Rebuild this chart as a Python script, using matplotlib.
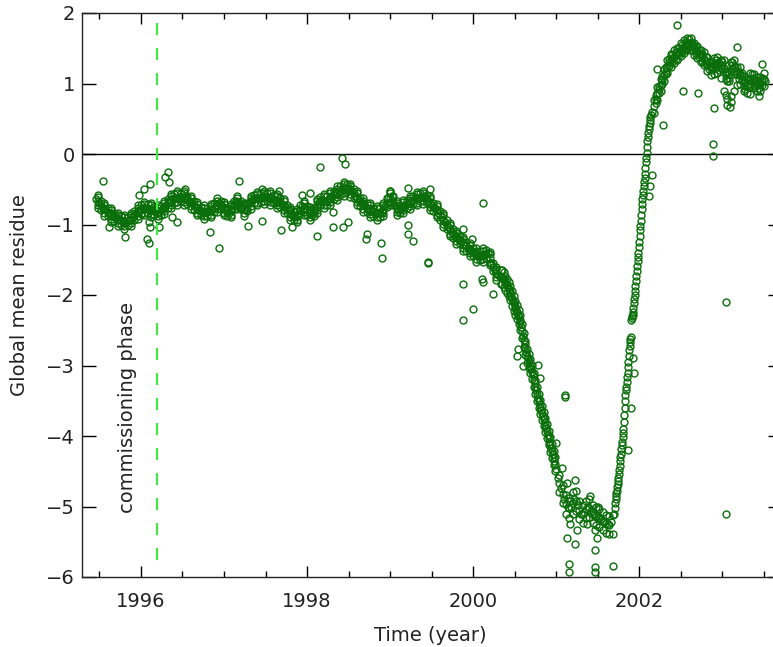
import numpy as np
import matplotlib.pyplot as plt
from matplotlib.ticker import MultipleLocator

# 数据：按时间段读取的主带（起始年份、步长、数值）
# 1995.46 - 2000.30，每 0.04 年一个点
slow_t0, slow_dt = 1995.46, 0.04
slow_mid = [
    -0.64, -0.70, -0.76, -0.80, -0.84, -0.87, -0.90, -0.93, -0.95, -0.96, -0.94, -0.89, -0.84, -0.80,
    -0.77, -0.76, -0.78, -0.80, -0.81, -0.82, -0.78, -0.72, -0.67, -0.64, -0.62, -0.61, -0.61,
    -0.63, -0.66, -0.70, -0.75, -0.79, -0.82, -0.82, -0.81, -0.78, -0.74, -0.69, -0.74,
    -0.80, -0.83, -0.76, -0.67, -0.68, -0.76, -0.80, -0.70, -0.65, -0.63, -0.62, -0.61, -0.61,
    -0.61, -0.63, -0.65, -0.67, -0.71, -0.75, -0.80, -0.87, -0.89, -0.84, -0.74, -0.77,
    -0.82, -0.86, -0.78, -0.68, -0.65, -0.67, -0.64, -0.59, -0.56, -0.53, -0.50, -0.47, -0.48,
    -0.53, -0.59, -0.65, -0.70, -0.74, -0.78, -0.80, -0.83, -0.83, -0.82, -0.74, -0.63,
    -0.60, -0.72, -0.80, -0.76, -0.72, -0.69, -0.66, -0.63, -0.62, -0.60, -0.61, -0.66, -0.72,
    -0.77, -0.83, -0.90, -0.96, -1.04, -1.10, -1.15, -1.20, -1.24, -1.29, -1.33, -1.37,
    -1.41, -1.44, -1.44, -1.42, -1.41, -1.55, -1.65, -1.72,
]
# 同一时段，错开 0.02 年的点（中、偏上、偏下）
slow2_t0, slow2_dt = 1995.48, 0.04
slow_mid2 = [
    -0.67, -0.73, -0.78, -0.82, -0.86, -0.89, -0.92, -0.94, -0.96, -0.95, -0.92, -0.87, -0.82,
    -0.79, -0.77, -0.77, -0.79, -0.81, -0.82, -0.80, -0.75, -0.70, -0.66, -0.63, -0.62, -0.61,
    -0.62, -0.65, -0.68, -0.73, -0.77, -0.81, -0.82, -0.82, -0.80, -0.76, -0.72, -0.72,
    -0.77, -0.82, -0.80, -0.72, -0.68, -0.72, -0.78, -0.75, -0.68, -0.64, -0.63, -0.62, -0.61,
    -0.61, -0.62, -0.64, -0.66, -0.69, -0.73, -0.78, -0.84, -0.88, -0.87, -0.79, -0.76,
    -0.80, -0.84, -0.82, -0.73, -0.67, -0.66, -0.66, -0.62, -0.58, -0.55, -0.52, -0.49, -0.48,
    -0.51, -0.56, -0.62, -0.68, -0.72, -0.76, -0.79, -0.82, -0.83, -0.83, -0.78, -0.69,
    -0.62, -0.66, -0.76, -0.78, -0.74, -0.71, -0.68, -0.65, -0.63, -0.61, -0.61, -0.64, -0.69,
    -0.75, -0.80, -0.87, -0.93, -1.00, -1.07, -1.13, -1.18, -1.22, -1.27, -1.31, -1.35,
    -1.39, -1.43, -1.44, -1.43, -1.42, -1.48, -1.60, -1.69,
]
slow_up = [
    -0.61, -0.67, -0.72, -0.76, -0.80, -0.83, -0.86, -0.88, -0.90, -0.89, -0.86, -0.81, -0.76,
    -0.73, -0.71, -0.71, -0.73, -0.75, -0.76, -0.74, -0.69, -0.64, -0.60, -0.57, -0.56, -0.55,
    -0.56, -0.59, -0.62, -0.67, -0.71, -0.75, -0.76, -0.76, -0.74, -0.70, -0.66, -0.66,
    -0.71, -0.76, -0.74, -0.66, -0.62, -0.66, -0.72, -0.69, -0.62, -0.58, -0.57, -0.56, -0.55,
    -0.55, -0.56, -0.58, -0.60, -0.63, -0.67, -0.72, -0.78, -0.82, -0.81, -0.73, -0.70,
    -0.74, -0.78, -0.76, -0.67, -0.61, -0.60, -0.60, -0.56, -0.52, -0.49, -0.46, -0.43, -0.42,
    -0.45, -0.50, -0.56, -0.62, -0.66, -0.70, -0.73, -0.76, -0.77, -0.77, -0.72, -0.63,
    -0.56, -0.60, -0.70, -0.72, -0.68, -0.65, -0.62, -0.59, -0.57, -0.55, -0.55, -0.58, -0.63,
    -0.69, -0.74, -0.81, -0.87, -0.94, -1.01, -1.07, -1.12, -1.16, -1.21, -1.25, -1.29,
    -1.33, -1.37, -1.38, -1.37, -1.36, -1.42, -1.54, -1.63,
]
slow_dn = [
    -0.73, -0.79, -0.84, -0.88, -0.92, -0.95, -0.98, -1.00, -1.02, -1.01, -0.98, -0.93, -0.88,
    -0.85, -0.83, -0.83, -0.85, -0.87, -0.88, -0.86, -0.81, -0.76, -0.72, -0.69, -0.68, -0.67,
    -0.68, -0.71, -0.74, -0.79, -0.83, -0.87, -0.88, -0.88, -0.86, -0.82, -0.78, -0.78,
    -0.83, -0.88, -0.86, -0.78, -0.74, -0.78, -0.84, -0.81, -0.74, -0.70, -0.69, -0.68, -0.67,
    -0.67, -0.68, -0.70, -0.72, -0.75, -0.79, -0.84, -0.90, -0.94, -0.93, -0.85, -0.82,
    -0.86, -0.90, -0.88, -0.79, -0.73, -0.72, -0.72, -0.68, -0.64, -0.61, -0.58, -0.55, -0.54,
    -0.57, -0.62, -0.68, -0.74, -0.78, -0.82, -0.85, -0.88, -0.89, -0.89, -0.84, -0.75,
    -0.68, -0.72, -0.82, -0.84, -0.80, -0.77, -0.74, -0.71, -0.69, -0.67, -0.67, -0.70, -0.75,
    -0.81, -0.86, -0.93, -0.99, -1.06, -1.13, -1.19, -1.24, -1.28, -1.33, -1.37, -1.41,
    -1.45, -1.49, -1.50, -1.49, -1.48, -1.54, -1.66, -1.75,
]
# 主带上下边缘，每 0.08 年
edge_t0, edge_dt = 1995.48, 0.08
slow_hi = [
    -0.58, -0.69, -0.77, -0.83, -0.87, -0.83, -0.73,
    -0.68, -0.70, -0.72, -0.66, -0.57, -0.53, -0.53, -0.59, -0.68, -0.73, -0.71, -0.63,
    -0.68, -0.71, -0.59, -0.69, -0.59, -0.54, -0.52, -0.53, -0.57, -0.64, -0.75, -0.78, -0.67,
    -0.75, -0.64, -0.57, -0.53, -0.46, -0.40, -0.42, -0.53, -0.63, -0.70, -0.74, -0.69,
    -0.53, -0.67, -0.65, -0.59, -0.54, -0.52, -0.60, -0.71, -0.84, -0.98, -1.09, -1.18, -1.26,
    -1.34, -1.34, -1.39, -1.60,
]
slow_lo = [
    -0.77, -0.88, -0.96, -1.02, -1.06, -1.02, -0.92,
    -0.87, -0.90, -0.92, -0.85, -0.76, -0.72, -0.72, -0.78, -0.87, -0.92, -0.90, -0.82,
    -0.87, -0.90, -0.78, -0.88, -0.78, -0.73, -0.71, -0.72, -0.76, -0.83, -0.94, -0.97, -0.86,
    -0.94, -0.83, -0.76, -0.72, -0.65, -0.59, -0.61, -0.72, -0.82, -0.89, -0.93, -0.88,
    -0.72, -0.86, -0.84, -0.78, -0.73, -0.71, -0.79, -0.90, -1.03, -1.17, -1.28, -1.37, -1.45,
    -1.53, -1.53, -1.58, -1.79,
]

# 下降段 2000.32 - 2001.00，每 0.01 年
fall_t0, fall_dt = 2000.32, 0.01
fall_mid = [
    -1.73, -1.74, -1.74, -1.75, -1.76, -1.78, -1.80, -1.83,
    -1.85, -1.87, -1.89, -1.92, -1.94, -1.97, -2.01, -2.05, -2.09, -2.12,
    -2.15, -2.18, -2.21, -2.24, -2.28, -2.31, -2.35, -2.39, -2.45, -2.51,
    -2.58, -2.64, -2.69, -2.75, -2.81, -2.86, -2.90, -2.94, -2.97, -3.01,
    -3.05, -3.09, -3.14, -3.20, -3.25, -3.30, -3.35, -3.41, -3.46, -3.50,
    -3.55, -3.59, -3.63, -3.67, -3.72, -3.76, -3.80, -3.84, -3.89, -3.93,
    -3.98, -4.03, -4.08, -4.12, -4.17, -4.21, -4.26, -4.31, -4.35, -4.40,
    -4.47,
]
fall2_t0, fall2_dt = 2000.33, 0.02
fall_hi = [-1.64, -1.65, -1.68, -1.73, -1.77, -1.82, -1.87, -1.95, -2.02, -2.08,
           -2.14, -2.21, -2.29, -2.41, -2.54, -2.65, -2.76, -2.84, -2.91, -2.99,
           -3.10, -3.20, -3.31, -3.40, -3.49, -3.57, -3.66, -3.74, -3.83, -3.93,
           -4.02, -4.11, -4.21, -4.30]
fall_lo = [-1.84, -1.85, -1.88, -1.93, -1.97, -2.02, -2.07, -2.15, -2.22, -2.28,
           -2.34, -2.41, -2.49, -2.61, -2.74, -2.85, -2.96, -3.04, -3.11, -3.19,
           -3.30, -3.40, -3.51, -3.60, -3.69, -3.77, -3.86, -3.94, -4.03, -4.13,
           -4.22, -4.31, -4.41, -4.50]

# 最低段 2001.02 - 2001.68，每 0.02 年
low_t0, low_dt = 2001.02, 0.02
low_mid = [
    -4.59, -4.67, -4.74, -4.82, -4.90, -4.96, -5.00, -5.02, -5.00,
    -4.95, -4.90, -4.92, -4.98, -5.05, -5.10, -5.11, -5.08, -5.04, -5.01,
    -5.02, -5.06, -5.10, -5.12, -5.13, -5.14, -5.16, -5.18, -5.20, -5.22,
    -5.24, -5.25, -5.26, -5.22, -5.12,
]
low_edge_t0, low_edge_dt = 2001.04, 0.04
low_hi = [-4.55, -4.70, -4.84, -4.88, -4.80, -4.78, -4.92, -4.98,
          -4.92, -4.90, -4.98, -5.01, -5.04, -5.08, -5.12, -5.14]
low_lo = [-4.80, -4.95, -5.10, -5.16, -5.10, -5.06, -5.18, -5.24,
          -5.17, -5.15, -5.23, -5.26, -5.29, -5.33, -5.37, -5.39]

# 上升段 2001.700 - 2002.140，每 0.005 年
rise_t0, rise_dt = 2001.70, 0.005
rise_mid = [
    -5.10, -5.02, -4.95, -4.90, -4.85, -4.81, -4.78, -4.73, -4.68, -4.64,
    -4.60, -4.54, -4.48, -4.42, -4.36, -4.30, -4.25, -4.19, -4.13, -4.08,
    -4.02, -3.96, -3.90, -3.80, -3.70, -3.60, -3.50, -3.42, -3.35, -3.30,
    -3.24, -3.17, -3.10, -3.02, -2.95, -2.86, -2.78, -2.72, -2.66, -2.63,
    -2.60, -2.36, -2.33, -2.30, -2.28, -2.24, -2.18, -2.12, -2.06, -2.00,
    -1.94, -1.87, -1.80, -1.73, -1.66, -1.59, -1.52, -1.46, -1.40, -1.32,
    -1.25, -1.16, -1.08, -1.02, -0.95, -0.86, -0.78, -0.71, -0.64, -0.58,
    -0.52, -0.46, -0.40, -0.34, -0.28, -0.20, -0.12, -0.05, 0.02, 0.10,
    0.18, 0.24, 0.30, 0.35, 0.40, 0.44, 0.48, 0.52, 0.55,
]

# 顶部 2002.16 - 2003.52，每 0.02 年
top_t0, top_dt = 2002.16, 0.02
top_mid = [
    0.60, 0.68, 0.78, 0.86, 0.92, 0.98, 1.05, 1.12, 1.18, 1.24,
    1.30, 1.33, 1.36, 1.38, 1.40, 1.42, 1.45, 1.48, 1.50, 1.52,
    1.54, 1.56, 1.58, 1.57, 1.53, 1.50, 1.47, 1.45, 1.42, 1.40,
    1.37, 1.35, 1.32, 1.28, 1.25, 1.23, 1.24, 1.27, 1.29, 1.28,
    1.24, 1.22,
    1.26, 1.22, 1.12, 1.04, 1.08, 1.18, 1.26, 1.24, 1.18, 1.14,
    1.12, 1.14, 1.10, 1.02, 0.97, 0.96, 1.00, 1.06, 1.08, 1.05,
    1.02, 1.00, 0.99, 1.00, 1.03, 1.06, 1.04,
]
top_edge_t0, top_edge_dt = 2002.18, 0.04
top_hi = [0.77, 0.95, 1.07, 1.21, 1.33, 1.42, 1.47, 1.51, 1.57, 1.61, 1.64, 1.64,
          1.58, 1.53, 1.48, 1.44, 1.37, 1.32, 1.36, 1.38, 1.33, 1.34, 1.18, 1.30,
          1.34, 1.24, 1.23, 1.11, 1.06, 1.15, 1.14, 1.09, 1.09, 1.15]
top_lo = [0.58, 0.77, 0.89, 1.03, 1.15, 1.24, 1.29, 1.33, 1.39, 1.43, 1.47, 1.48,
          1.41, 1.36, 1.31, 1.26, 1.18, 1.12, 1.14, 1.15, 1.08, 0.90, 0.78, 0.82,
          0.90, 0.98, 1.00, 0.90, 0.86, 0.95, 0.94, 0.90, 0.90, 0.96]
top2_t0, top2_dt = 2002.20, 0.04
top_up = [0.83, 0.97, 1.10, 1.23, 1.35, 1.41, 1.45, 1.50, 1.55, 1.59, 1.63, 1.58,
          1.52, 1.47, 1.42, 1.37, 1.30, 1.29, 1.34, 1.29, 1.31, 1.17, 1.13, 1.31,
          1.23, 1.17, 1.15, 1.02, 1.05, 1.13, 1.07, 1.04, 1.08]
top_dn = [0.73, 0.87, 1.00, 1.13, 1.25, 1.31, 1.35, 1.40, 1.45, 1.49, 1.53, 1.48,
          1.42, 1.37, 1.32, 1.27, 1.20, 1.19, 1.24, 1.19, 1.21, 1.07, 1.03, 1.21,
          1.13, 1.07, 1.05, 0.92, 0.95, 1.03, 0.97, 0.94, 0.98]

# 离散点
out_t = [1995.54, 1996.33, 1996.29, 1996.34, 1996.11, 1996.04, 1997.18, 1995.81,
         1996.07, 1996.10, 1996.94, 1996.83, 1997.29, 1997.69, 1997.46, 1997.66,
         1996.53, 1998.16, 1998.42, 1998.46, 1998.31, 1998.43, 1998.12, 1998.71,
         1998.89, 1998.90, 1999.46, 1999.46, 2000.12, 1999.88, 2000.00, 1999.88,
         1999.22, 1999.28, 1998.49, 2001.11, 2001.11, 2001.23, 2001.13, 2001.23,
         2001.15, 2001.15, 2001.47, 2001.47, 2001.47, 2001.69, 2001.41, 2000.78,
         2002.45, 2002.22, 2002.53, 2002.71, 2002.90, 2002.89, 2002.89, 2003.18,
         2003.48, 2002.29, 2003.05, 2003.05, 1995.98, 1996.10, 1996.11, 1996.22,
         1996.37, 1996.43, 1995.61, 1997.46, 1997.82, 1997.94, 1998.04, 1999.00,
         1999.22, 1999.48, 1998.72, 1998.31, 1999.22, 1999.88, 1999.99, 2000.11,
         2000.12, 2000.24, 2000.54, 2000.53, 2000.60, 2000.81, 2001.00, 2001.07,
         2001.13, 2001.17, 2001.51, 2001.69, 2001.17, 2001.25, 2001.47, 2001.49,
         2001.37, 2002.13, 2002.16, 2002.12, 2001.93, 2001.94, 2001.86, 2001.90,
         2003.06, 2003.09, 2003.11, 2003.05, 2003.33, 2003.44]
out_v = [-0.38, -0.25, -0.32, -0.40, -0.43, -0.50, -0.38, -1.18,
         -1.21, -1.26, -1.34, -1.10, -1.02, -1.08, -0.95, -0.53,
         -0.50, -0.18, -0.06, -0.14, -1.04, -1.03, -1.17, -1.21,
         -1.26, -1.48, -1.53, -1.55, -0.69, -1.85, -2.20, -2.35,
         -1.14, -1.24, -0.96, -3.42, -3.45, -4.63, -5.44, -5.53,
         -5.82, -5.93, -5.62, -5.86, -5.93, -5.85, -4.85, -2.99,
         1.83, 1.21, 0.89, 0.87, 0.65, 0.14, -0.03, 1.52,
         1.28, 0.41, -2.10, -5.11, -0.58, -0.97, -1.04, -1.03,
         -0.89, -0.96, -1.04, -0.49, -1.03, -0.58, -0.55, -0.53,
         -0.48, -0.49, -1.14, -0.82, -1.00, -1.07, -1.21, -1.77,
         -1.82, -1.99, -2.76, -2.87, -3.01, -3.18, -4.10, -4.45,
         -4.66, -4.92, -5.01, -5.39, -5.25, -5.34, -5.34, -5.44,
         -5.25, -0.45, -0.30, -0.60, -2.90, -3.10, -4.20, -3.60,
         0.70, 0.66, 0.74, 0.84, 0.85, 0.82]

commission_year = 1996.19

segments = [
    (slow_t0, slow_dt, slow_mid),
    (slow2_t0, slow2_dt, slow_mid2), (slow2_t0, slow2_dt, slow_up), (slow2_t0, slow2_dt, slow_dn),
    (edge_t0, edge_dt, slow_hi), (edge_t0, edge_dt, slow_lo),
    (fall_t0, fall_dt, fall_mid), (fall2_t0, fall2_dt, fall_hi), (fall2_t0, fall2_dt, fall_lo),
    (low_t0, low_dt, low_mid), (low_edge_t0, low_edge_dt, low_hi), (low_edge_t0, low_edge_dt, low_lo),
    (rise_t0, rise_dt, rise_mid),
    (top_t0, top_dt, top_mid), (top_edge_t0, top_edge_dt, top_hi), (top_edge_t0, top_edge_dt, top_lo),
    (top2_t0, top2_dt, top_up), (top2_t0, top2_dt, top_dn),
]

green = '#0a6e0a'
fs = 14
txt = '#222222'

fig = plt.figure(figsize=(7.73, 6.47), dpi=100)
ax = fig.add_axes([82 / 773, 1 - 577 / 647, 700 / 773, 564 / 647])

ax.axhline(0, color='black', lw=1.0, zorder=1)

for t0, dt, vals in segments:
    t = t0 + dt * np.arange(len(vals))
    ax.plot(t, vals, 'o', mfc='none', mec=green, ms=5, mew=1.0, zorder=2)
ax.plot(out_t, out_v, 'o', mfc='none', mec=green, ms=5, mew=1.0, zorder=2)

# 调试阶段分界线
ax.plot([commission_year, commission_year], [1.86, -5.86], color='#3ded3d', lw=1.5,
        dashes=(5.8, 6.2), zorder=3)
ax.text(1995.843, -3.59, 'commissioning phase', rotation=90, ha='center', va='center',
        fontsize=fs, color=txt)

ax.set_xlim(1995.29, 2003.72)
ax.set_ylim(-6, 2)
ax.xaxis.set_major_locator(MultipleLocator(2))
ax.xaxis.set_minor_locator(MultipleLocator(0.5))
ax.yaxis.set_major_locator(MultipleLocator(1))

ax.tick_params(axis='x', which='major', direction='in', length=8, width=1, top=True,
               pad=11, labelsize=fs, labelcolor=txt)
ax.tick_params(axis='x', which='minor', direction='in', length=4.3, width=1, top=True)
ax.tick_params(axis='y', which='major', direction='in', length=10, width=1, right=True,
               pad=5, labelsize=fs, labelcolor=txt)
for s in ax.spines.values():
    s.set_linewidth(1.0)
    s.set_color('#222222')

fig.text(20 / 773, 1 - 295 / 647, 'Global mean residue', rotation=90, ha='center',
         va='center', fontsize=fs, color=txt)
fig.text(430 / 773, 1 - 641 / 647, 'Time (year)', ha='center', va='baseline',
         fontsize=fs, color=txt)

fig.savefig('out.png', dpi=100)
